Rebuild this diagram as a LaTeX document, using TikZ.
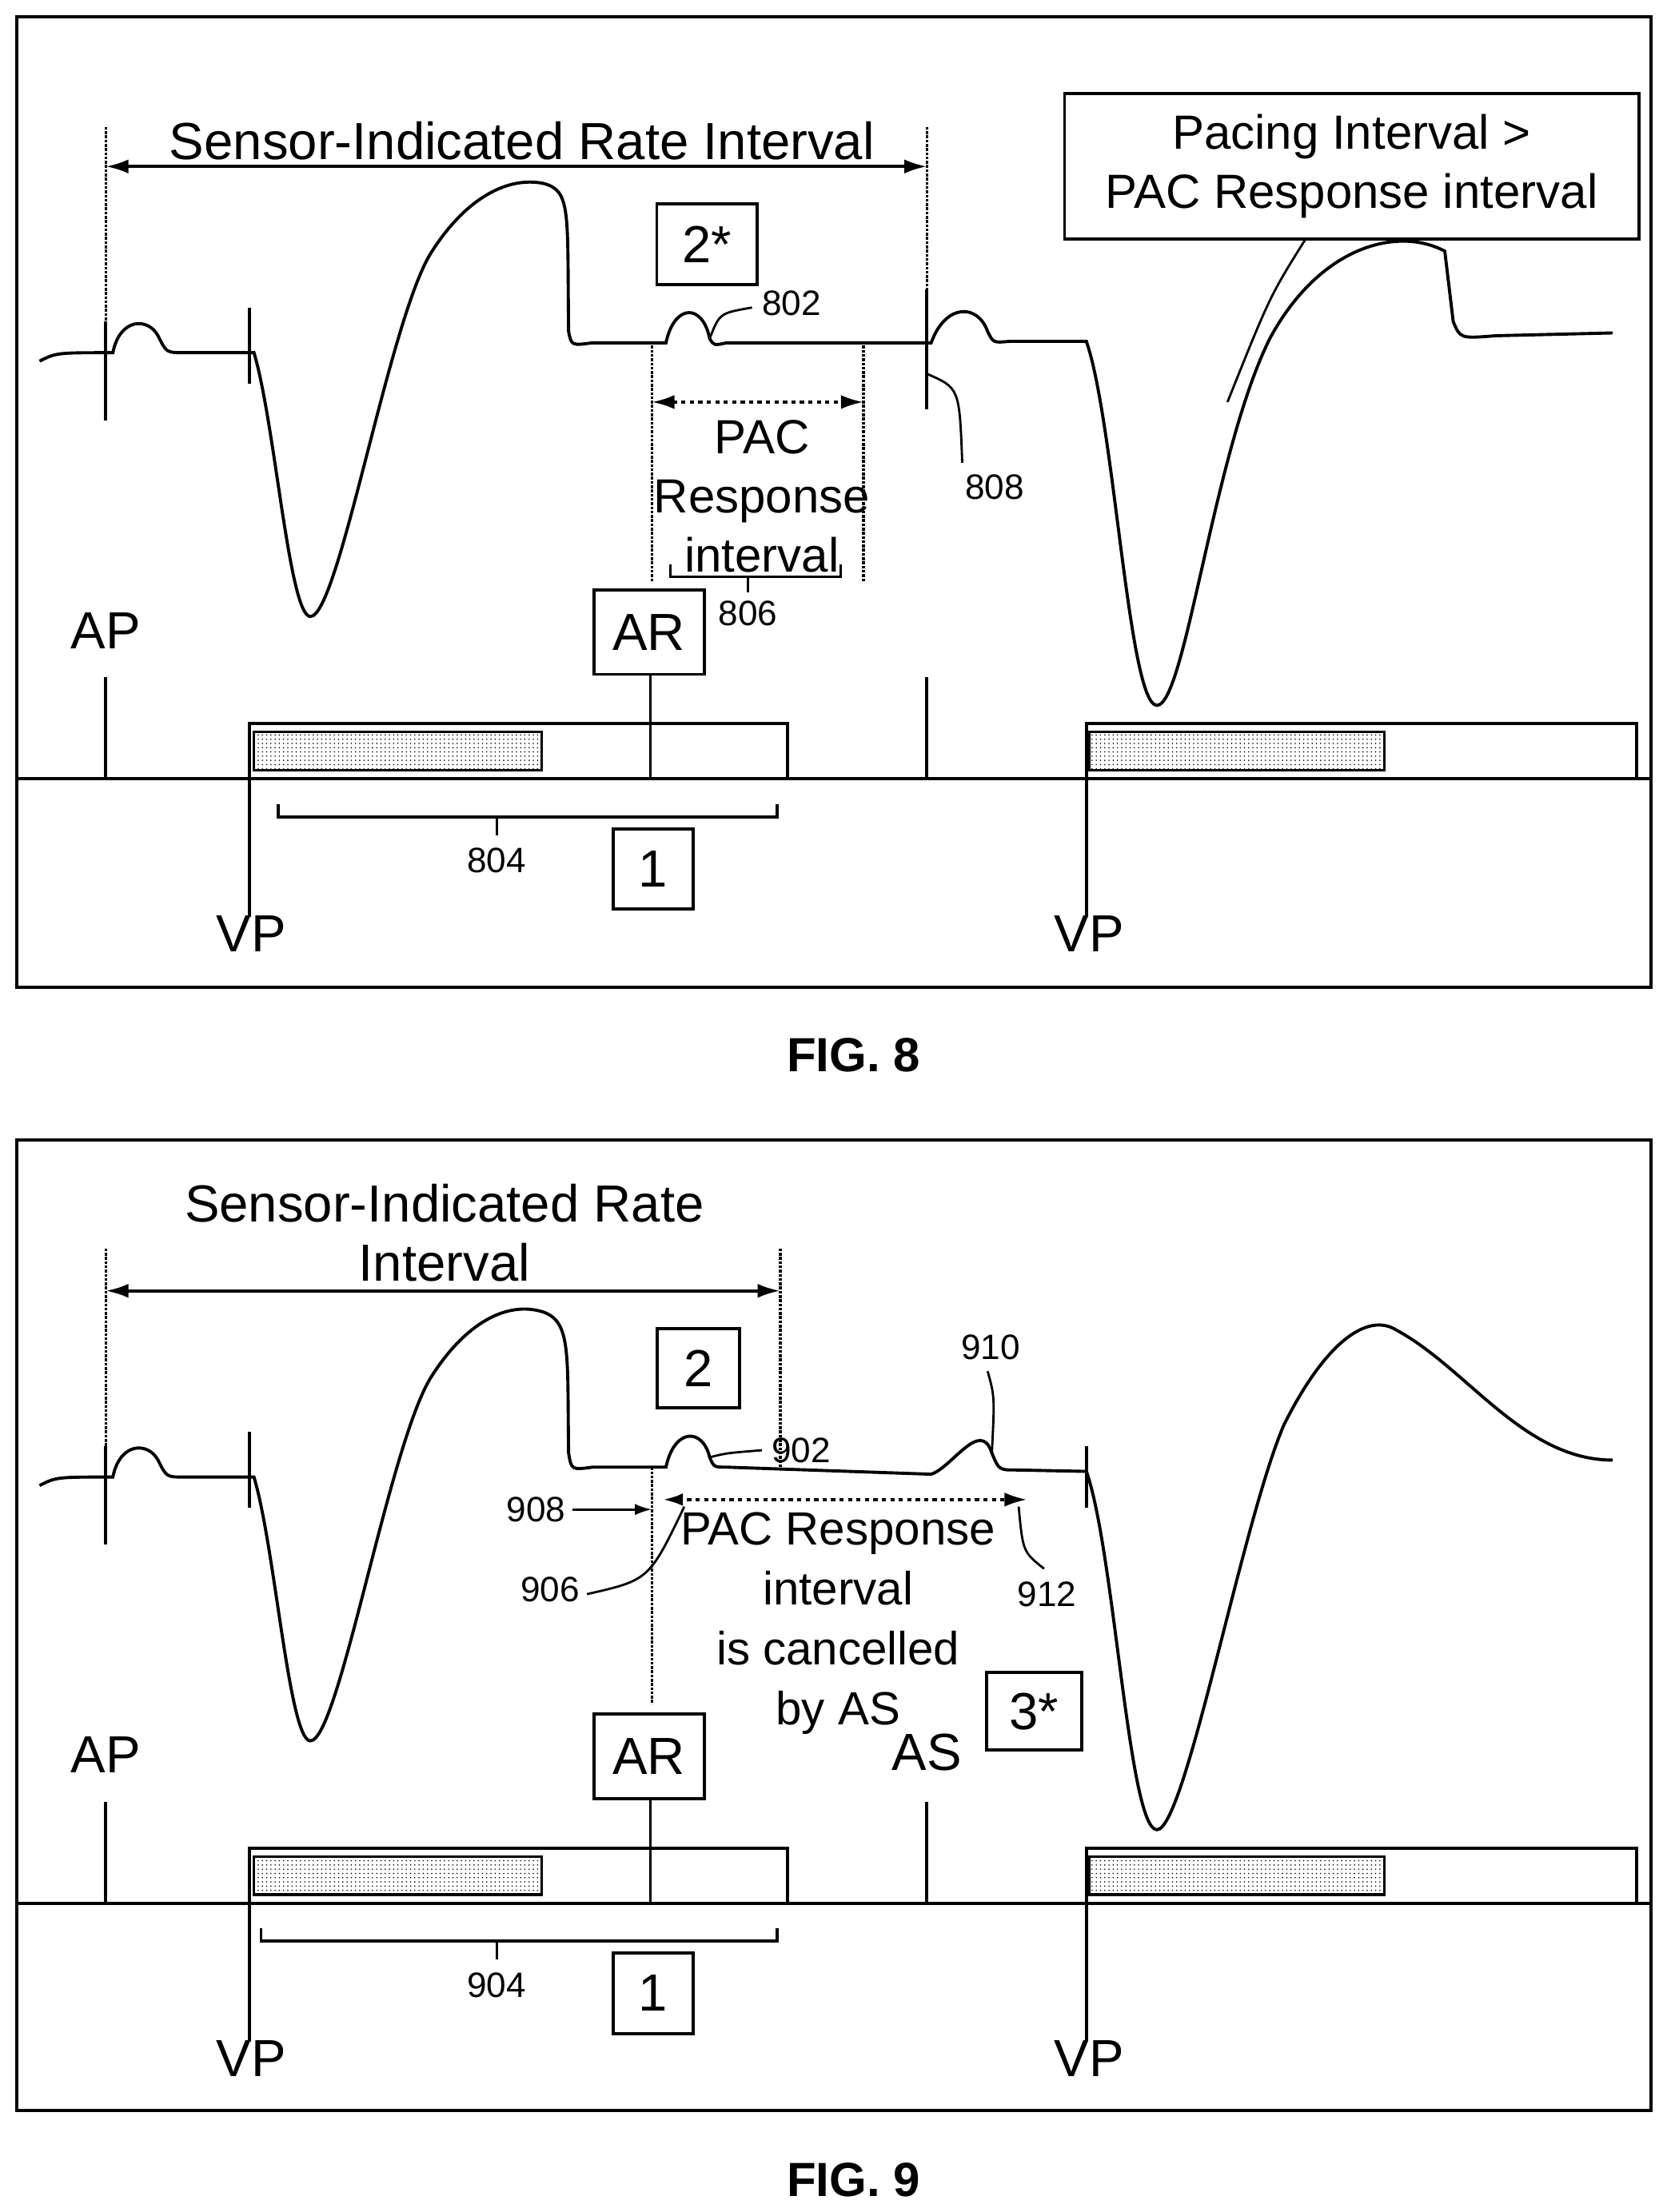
\documentclass[tikz,border=0pt]{standalone}
\usepackage{fontspec}
\setmainfont{Liberation Sans}
\usetikzlibrary{patterns,arrows.meta}
\begin{document}
\begin{tikzpicture}[x=1pt,y=-1pt,line width=2.2pt,
 big/.style={font=\fontsize{37}{40}\selectfont,inner sep=1pt},
 mid/.style={font=\fontsize{34}{42}\selectfont,align=center,inner sep=1pt},
 small/.style={font=\fontsize{25}{27}\selectfont,inner sep=1pt},
 box/.style={draw,line width=2.2pt},
 dotv/.style={densely dotted,line width=2pt},
 harr/.style={{Latex[length=16pt,width=10pt]}-{Latex[length=16pt,width=10pt]}},
 spk/.style={pattern=dots,draw,line width=1.8pt}]
\useasboundingbox (0,0) rectangle (1184,1568);
% ===== common lower part =====
\foreach \oy/\rr/\bl in {0/804/197, 797/904/185}{
\begin{scope}[shift={(0,\oy)}]
\draw (12,552) -- (1170,552);
\draw (75,480) -- (75,552); \node[big] at (75,447) {AP};
\draw (177,513) -- (177,650); \node[big] at (178,662) {VP};
\draw (177,513) rectangle (558,552);
\draw[spk] (180,519) rectangle (384,546);
\draw (461,478) -- (461,552);
\node[box,big,minimum width=78pt,minimum height=60pt] (ar\rr) at (460,448) {AR};
\draw (657,480) -- (657,552);
\draw (770,513) rectangle (1160,552);
\draw[spk] (772,519) rectangle (981,546);
\draw (770,513) -- (770,650); \node[big] at (772,662) {VP};
\draw (\bl,570) -- (\bl,579) -- (551,579) -- (551,570);
\draw[line width=1.6pt] (352,579) -- (352,592);
\node[small] at (352,610) {\rr};
\node[box,big,minimum width=57pt,minimum height=57pt] at (463,616) {1};
\end{scope}}
% ===== FIG 8 =====
\draw (12,12) rectangle (1170,700);
\draw (28,256) .. controls (40,250) .. (80,250) .. controls (85,225) and (105,225) .. (112,238) .. controls (118,250) .. (130,250) -- (180,250)
 .. controls (195,300) and (205,437) .. (220,437) .. controls (240,437) and (275,230) .. (305,180)
 .. controls (330,140) and (360,125) .. (385,130) .. controls (405,135) and (402,150) .. (403,235) .. controls (405,245) .. (420,243) -- (472,243)
 .. controls (478,215) and (498,215) .. (503,240) .. controls (506,245) .. (515,243) -- (660,243)
 .. controls (670,215) and (693,215) .. (700,235) .. controls (704,243) .. (715,242) -- (770,242)
 .. controls (790,300) and (800,500) .. (820,500) .. controls (840,500) and (860,320) .. (900,240)
 .. controls (935,175) and (990,160) .. (1024,178) -- (1030,228) .. controls (1035,240) .. (1060,238) -- (1143,236);
\draw (75,228) -- (75,298); \draw (177,218) -- (177,272); \draw (657,205) -- (657,290);
\draw[dotv] (75,90) -- (75,228); \draw[dotv] (657,90) -- (657,205);
\draw[harr] (75,118) -- (657,118);
\node[big] at (370,100) {Sensor-Indicated Rate Interval};
\node[box,big,minimum width=71pt,minimum height=57pt] at (501,173) {2*};
\draw[line width=1.6pt] (503,240) .. controls (510,222) .. (533,218); \node[small,anchor=west] at (538,215) {802};
\draw[dotv] (462,245) -- (462,412); \draw[dotv] (612,245) -- (612,412);
\draw[harr,dashed] (462,285) -- (612,285);
\node[mid] at (540,352) {PAC\\Response\\interval};
\draw[line width=1.6pt] (475,400) -- (475,409) -- (596,409) -- (596,400); \draw[line width=1.6pt] (530,409) -- (530,420);
\node[small] at (530,435) {806};
\draw[line width=1.6pt] (657,265) .. controls (680,275) .. (682,328); \node[small] at (705,345) {808};
\node[box,mid,minimum width=407pt,minimum height=103pt,inner sep=0pt] (pi) at (958,118) {Pacing Interval >\\PAC Response interval};
\draw[line width=1.6pt] (925,170) .. controls (900,210) .. (870,285);
\node[font=\bfseries\fontsize{34}{38}\selectfont] at (605,748) {FIG. 8};
% ===== FIG 9 =====
\draw (12,808) rectangle (1170,1496);
\draw (28,1053) .. controls (40,1047) .. (80,1047) .. controls (85,1022) and (105,1022) .. (112,1035) .. controls (118,1047) .. (130,1047) -- (180,1047)
 .. controls (195,1097) and (205,1234) .. (220,1234) .. controls (240,1234) and (275,1027) .. (305,977)
 .. controls (330,937) and (360,922) .. (385,930) .. controls (405,937) and (402,960) .. (403,1030) .. controls (405,1042) .. (420,1040) -- (472,1040)
 .. controls (478,1012) and (498,1012) .. (503,1033) .. controls (506,1040) .. (515,1040) -- (660,1045)
 .. controls (675,1040) and (695,1005) .. (703,1030) .. controls (708,1042) .. (720,1042) -- (770,1043)
 .. controls (790,1100) and (800,1297) .. (820,1297) .. controls (840,1297) and (880,1080) .. (910,1010)
 .. controls (940,950) and (970,930) .. (990,943) .. controls (1040,970) and (1080,1035) .. (1143,1035);
\draw (75,1025) -- (75,1095); \draw (177,1015) -- (177,1069); \draw (770,1025) -- (770,1069);
\draw[dotv] (75,885) -- (75,1025); \draw[dotv] (553,885) -- (553,1040);
\draw[harr] (75,915) -- (553,915);
\node[mid,font=\fontsize{37}{42}\selectfont] at (315,874) {Sensor-Indicated Rate\\Interval};
\node[box,big,minimum width=58pt,minimum height=56pt] at (495,970) {2};
\draw[line width=1.6pt] (503,1033) .. controls (515,1030) .. (540,1028); \node[small,anchor=west] at (545,1028) {902};
\draw[line width=1.6pt] (703,1030) .. controls (705,990) .. (700,972); \node[small] at (702,955) {910};
\draw[dotv] (462,1040) -- (462,1208);
\draw[-{Latex[length=16pt,width=10pt]},dashed] (475,1063) -- (728,1063);
\draw[-{Latex[length=14pt,width=9pt]}] (475,1063) -- (470,1063);
\draw[line width=1.6pt,-{Latex[length=12pt,width=8pt]}] (406,1070) -- (462,1070); \node[small] at (380,1070) {908};
\draw[line width=1.6pt] (416,1130) .. controls (460,1120) .. (485,1068); \node[small] at (390,1127) {906};
\draw[line width=1.6pt] (740,1112) .. controls (725,1100) .. (722,1068); \node[small] at (742,1130) {912};
\node[mid,font=\fontsize{33}{42.5}\selectfont] at (594,1151) {PAC Response\\interval\\is cancelled\\by AS};
\node[big] at (657,1242) {AS};
\node[box,big,minimum width=67pt,minimum height=55pt] at (733,1213) {3*};
\node[font=\bfseries\fontsize{34}{38}\selectfont] at (605,1545) {FIG. 9};
\end{tikzpicture}
\end{document}
